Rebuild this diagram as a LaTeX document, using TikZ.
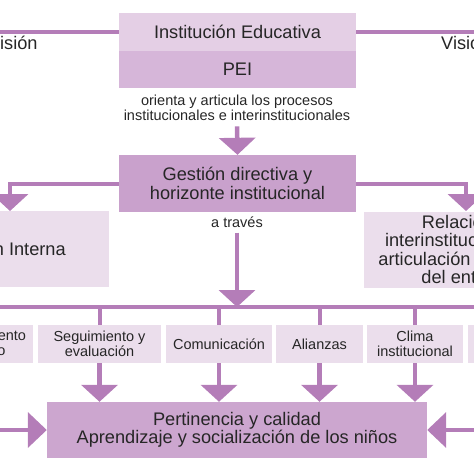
\documentclass[tikz,border=0pt]{standalone}
\usepackage{fontspec}
\setmainfont{Liberation Sans}
\usetikzlibrary{arrows.meta}
\definecolor{lineC}{HTML}{B47DB8}
\definecolor{lightC}{HTML}{EBDEEC}
\definecolor{topC}{HTML}{E4CFE5}
\definecolor{peiC}{HTML}{D6B6D9}
\definecolor{gestC}{HTML}{C9A1CC}
\definecolor{botC}{HTML}{CCA6CF}
\definecolor{txtC}{HTML}{262626}
\begin{document}
\begin{tikzpicture}[x=1pt,y=-1pt,
  box/.style={inner sep=0pt, align=center, text=txtC},
  big/.style={font=\fontsize{18.2}{19.5}\selectfont},
  small/.style={font=\fontsize{14.5}{14.8}\selectfont},
  conn/.style={draw=lineC, line width=4.5pt},
  arr/.style={conn, -{Triangle[width=36pt,length=17pt]}},
  sidearr/.style={conn, -{Triangle[width=35pt,length=19pt]}}]
\useasboundingbox (0,0) rectangle (474,474);
\clip (0,0) rectangle (474,474);
% top
\node[box,big,fill=topC,minimum width=237pt,minimum height=38pt] (inst) at (237.5,32) {Institución Educativa};
\node[box,big,fill=peiC,minimum width=237pt,minimum height=37pt] (pei) at (237.5,69.5) {PEI};
\node[box,big,anchor=base west] (mision) at (-15.2,49.5) {Misión};
\node[box,big,anchor=base west] (vision) at (441,49.5) {Visión};
\coordinate (tl) at (-5,32);
\coordinate (tr) at (479,32);
\draw[conn,line width=4pt] (tl) -- (inst.west);
\draw[conn,line width=4pt] (inst.east) -- (tr);
\node[box,small] (orient) at (237,107.5) {orienta y articula los procesos\\institucionales e interinstitucionales};
% gestion
\node[box,big,fill=gestC,minimum width=237pt,minimum height=57pt] (gest) at (237.5,183.5) {Gestión directiva y\\horizonte institucional};
\draw[arr,shorten <=6pt] (orient.south) -- (gest.north);
\node[box,big,fill=lightC,minimum width=211pt,minimum height=76pt] (lbox) at (3.5,249) {Gestión Interna};
\node[box,big,fill=lightC,minimum width=206pt,minimum height=76pt,font=\fontsize{18.2}{18.3}\selectfont] (rbox) at (467,249.5) {Relaciones\\interinstitucionales y\\articulación con redes\\del entorno};
\coordinate (lt) at (10,211);
\coordinate (rt) at (466,211);
\draw[arr,line width=4pt] (gest.west) -| (lt);
\draw[arr,line width=4pt] (gest.east) -| (rt);
\node[box,small] (atraves) at (237,222) {a través};
% bus
\coordinate (bus) at (237,307);
\coordinate (busl) at (-5,307);
\coordinate (busr) at (479,307);
\draw[arr,shorten <=5pt] (atraves.south) -- (bus);
\draw[conn,line width=4pt] (busl) -- (busr);
% middle row
\node[box,small,fill=lightC,minimum width=126pt,minimum height=38pt] (m1) at (-30,344) {Direccionamiento\\estratégico};
\node[box,small,fill=lightC,minimum width=123pt,minimum height=38pt] (m2) at (99.5,344) {Seguimiento y\\evaluación};
\node[box,small,fill=lightC,minimum width=106pt,minimum height=38pt] (m3) at (219,344) {Comunicación};
\node[box,small,fill=lightC,minimum width=87pt,minimum height=38pt] (m4) at (319.5,344) {Alianzas};
\node[box,small,fill=lightC,minimum width=96pt,minimum height=38pt] (m5) at (415,344) {Clima\\institucional};
\node[box,small,fill=lightC,minimum width=92pt,minimum height=38pt] (m6) at (514,344) {};
\foreach \m in {m2,m3,m4,m5} {
  \draw[conn,line width=4pt] (\m.north |- bus) -- (\m.north);
}
% bottom
\node[box,big,fill=botC,minimum width=380pt,minimum height=56pt,font=\fontsize{18.2}{18.5}\selectfont] (bot) at (237,430) {Pertinencia y calidad\\Aprendizaje y socialización de los niños};
\foreach \m in {m2,m3,m4,m5} {
  \draw[arr] (\m.south) -- (\m.south |- bot.north);
}
\coordinate (lin) at (-5,430);
\coordinate (rin) at (479,430);
\draw[sidearr,line width=4pt] (lin) -- (bot.west);
\draw[sidearr,line width=4pt] (rin) -- (bot.east);
\end{tikzpicture}
\end{document}
